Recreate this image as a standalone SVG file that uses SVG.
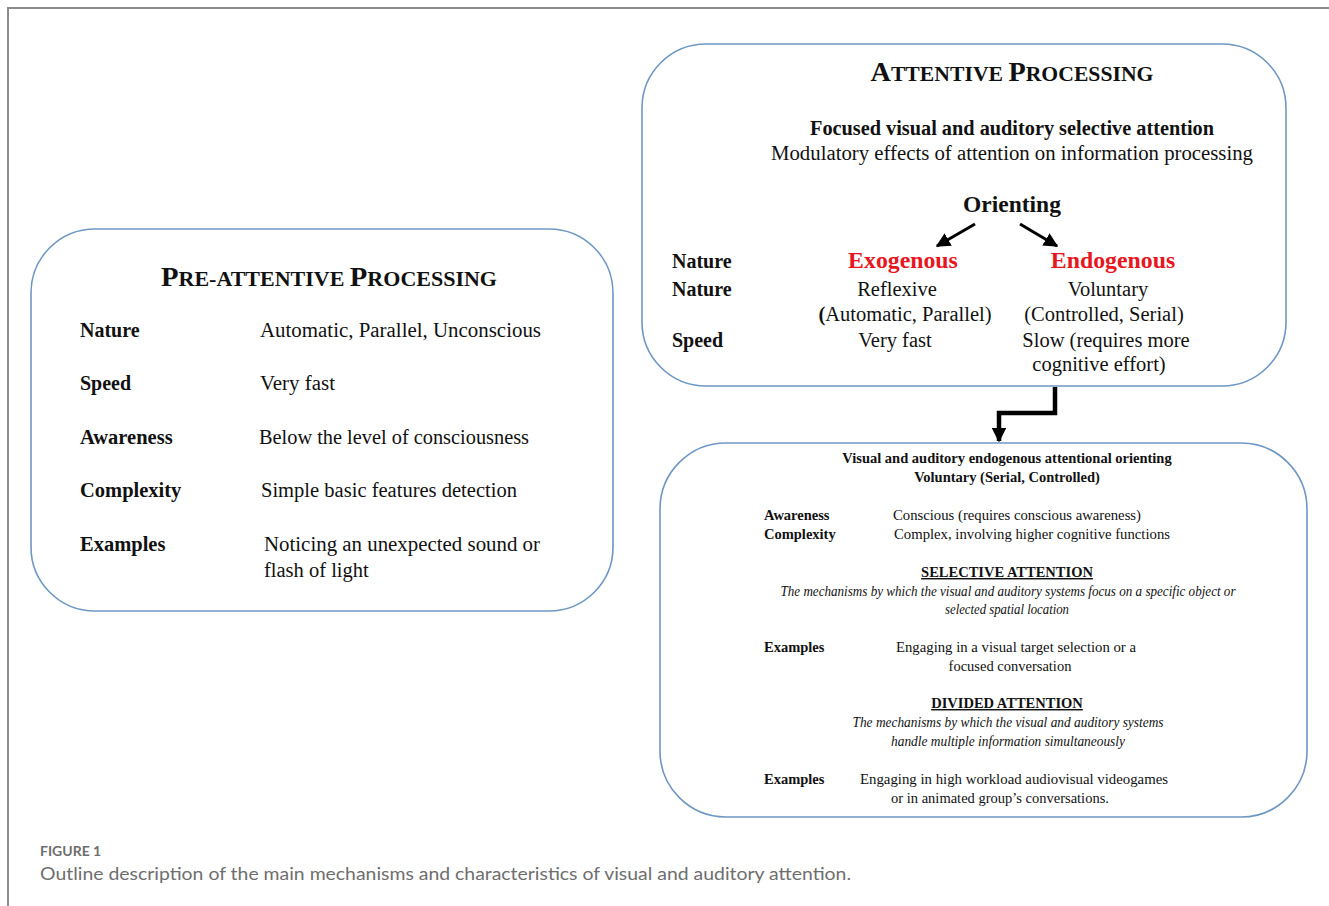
<svg xmlns="http://www.w3.org/2000/svg" width="1329" height="906" viewBox="0 0 1329 906">
  <style>
    .frame { fill: none; stroke: #8c8c8c; stroke-width: 2; }
    .box { fill: #ffffff; stroke: #6f97c4; stroke-width: 1.6; }
    .serif { font-family: "Liberation Serif", "Times New Roman", serif; fill: #111; }
    .b { font-weight: bold; }
    .i { font-style: italic; }
    .mid { text-anchor: middle; }
    .red { fill: #e8161e; }
    .ul { text-decoration: underline; }
    .cap { font-family: Lato, "Open Sans", "Liberation Sans", sans-serif; fill: #6e6e6e; }
    .conn { fill: none; stroke: #000; }
  </style>
  <defs>
    <marker id="head" viewBox="0 0 10 10" refX="9" refY="5" markerWidth="4.8" markerHeight="4.8" orient="auto" markerUnits="strokeWidth">
      <path d="M0,0 L10,5 L0,10 Z" fill="#000"/>
    </marker>
    <marker id="headBig" viewBox="0 0 10 10" refX="9" refY="5" markerWidth="3.2" markerHeight="3.2" orient="auto" markerUnits="strokeWidth">
      <path d="M0,0 L10,5 L0,10 Z" fill="#000"/>
    </marker>
  </defs>

  <rect width="1329" height="906" fill="#ffffff"/>
  <path class="frame" d="M8,906 L8,8 L1329,8"/>

  <!-- Pre-attentive processing -->
  <g id="pre-attentive">
    <rect class="box" x="31" y="229" width="582" height="382" rx="64" ry="64"/>
    <text class="serif b mid" x="329" y="286" textLength="336" lengthAdjust="spacingAndGlyphs"><tspan font-size="28">P</tspan><tspan font-size="21.5">RE-ATTENTIVE </tspan><tspan font-size="28">P</tspan><tspan font-size="21.5">ROCESSING</tspan></text>
    <g font-size="20.5">
      <text class="serif b" x="80" y="337" font-size="20">Nature</text>
      <text class="serif" x="260" y="337" textLength="281" lengthAdjust="spacingAndGlyphs">Automatic, Parallel, Unconscious</text>
      <text class="serif b" x="80" y="390" font-size="20">Speed</text>
      <text class="serif" x="260" y="390" textLength="75" lengthAdjust="spacingAndGlyphs">Very fast</text>
      <text class="serif b" x="80" y="444" font-size="20.5">Awareness</text>
      <text class="serif" x="259" y="444" textLength="270" lengthAdjust="spacingAndGlyphs">Below the level of consciousness</text>
      <text class="serif b" x="80" y="497" font-size="20.5">Complexity</text>
      <text class="serif" x="261" y="497" textLength="256" lengthAdjust="spacingAndGlyphs">Simple basic features detection</text>
      <text class="serif b" x="80" y="551" font-size="20.5">Examples</text>
      <text class="serif" x="264" y="551" textLength="276" lengthAdjust="spacingAndGlyphs">Noticing an unexpected sound or</text>
      <text class="serif" x="264" y="577">flash of light</text>
    </g>
  </g>

  <!-- Attentive processing -->
  <g id="attentive">
    <rect class="box" x="642" y="44" width="644" height="342" rx="64" ry="64"/>
    <text class="serif b mid" x="1012" y="81" textLength="283" lengthAdjust="spacingAndGlyphs"><tspan font-size="28">A</tspan><tspan font-size="21.5">TTENTIVE </tspan><tspan font-size="28">P</tspan><tspan font-size="21.5">ROCESSING</tspan></text>
    <text class="serif b mid" x="1012" y="135" font-size="20" textLength="404" lengthAdjust="spacingAndGlyphs">Focused visual and auditory selective attention</text>
    <text class="serif mid" x="1012" y="160" font-size="20.5" textLength="482" lengthAdjust="spacingAndGlyphs">Modulatory effects of attention on information processing</text>
    <text class="serif b mid" x="1012" y="212" font-size="23.5">Orienting</text>
    <g font-size="20.5">
      <text class="serif b" x="672" y="268" font-size="20">Nature</text>
      <text class="serif b" x="672" y="296" font-size="20">Nature</text>
      <text class="serif b" x="672" y="347" font-size="20">Speed</text>
      <text class="serif mid" x="897" y="296">Reflexive</text>
      <text class="serif mid" x="905" y="321"><tspan class="b">(</tspan>Automatic, Parallel)</text>
      <text class="serif mid" x="895" y="347">Very fast</text>
      <text class="serif mid" x="1108" y="296">Voluntary</text>
      <text class="serif mid" x="1104" y="321">(Controlled, Serial)</text>
      <text class="serif mid" x="1106" y="347">Slow (requires more</text>
      <text class="serif mid" x="1099" y="371">cognitive effort)</text>
    </g>
    <text class="serif b mid red" x="903" y="268" font-size="23.8">Exogenous</text>
    <text class="serif b mid red" x="1113" y="268" font-size="23.8">Endogenous</text>
  </g>

  <!-- Endogenous orienting -->
  <g id="endogenous-orienting">
    <rect class="box" x="660" y="443" width="647" height="374" rx="66" ry="66"/>
    <g font-size="14.5">
      <text class="serif b mid" x="1007" y="463">Visual and auditory endogenous attentional orienting</text>
      <text class="serif b mid" x="1007" y="482">Voluntary (Serial, Controlled)</text>
      <text class="serif b" x="764" y="520">Awareness</text>
      <text class="serif" x="893" y="520" textLength="248" lengthAdjust="spacingAndGlyphs">Conscious (requires conscious awareness)</text>
      <text class="serif b" x="764" y="539">Complexity</text>
      <text class="serif" x="894" y="539" textLength="276" lengthAdjust="spacingAndGlyphs">Complex, involving higher cognitive functions</text>
      <text class="serif b mid ul" x="1007" y="577">SELECTIVE ATTENTION</text>
      <text class="serif i mid" x="1008" y="596" textLength="455" lengthAdjust="spacingAndGlyphs">The mechanisms by which the visual and auditory systems focus on a specific object or</text>
      <text class="serif i mid" x="1007" y="614" textLength="124" lengthAdjust="spacingAndGlyphs">selected spatial location</text>
      <text class="serif b" x="764" y="652">Examples</text>
      <text class="serif" x="896" y="652" textLength="240" lengthAdjust="spacingAndGlyphs">Engaging in a visual target selection or a</text>
      <text class="serif mid" x="1010" y="671">focused conversation</text>
      <text class="serif b mid ul" x="1007" y="708">DIVIDED ATTENTION</text>
      <text class="serif i mid" x="1008" y="727" textLength="311" lengthAdjust="spacingAndGlyphs">The mechanisms by which the visual and auditory systems</text>
      <text class="serif i mid" x="1008" y="746" textLength="234" lengthAdjust="spacingAndGlyphs">handle multiple information simultaneously</text>
      <text class="serif b" x="764" y="784">Examples</text>
      <text class="serif" x="860" y="784" textLength="308" lengthAdjust="spacingAndGlyphs">Engaging in high workload audiovisual videogames</text>
      <text class="serif mid" x="1000" y="803">or in animated group’s conversations.</text>
    </g>
  </g>

  <!-- Connectors -->
  <g id="connectors">
    <line class="conn" x1="975" y1="224" x2="937" y2="246" stroke-width="3" marker-end="url(#head)"/>
    <line class="conn" x1="1020" y1="224" x2="1057" y2="246" stroke-width="3" marker-end="url(#head)"/>
    <polyline class="conn" points="1055,387 1055,413 999,413 999,441" stroke-width="4.5" stroke-linejoin="miter" marker-end="url(#headBig)"/>
  </g>

  <!-- Caption -->
  <g id="caption">
    <text class="cap" x="40" y="856" font-size="14" font-weight="bold" fill="#7f7f7f">FIGURE 1</text>
    <text class="cap" x="40" y="880" font-size="18" textLength="811" lengthAdjust="spacingAndGlyphs">Outline description of the main mechanisms and characteristics of visual and auditory attention.</text>
  </g>
</svg>
